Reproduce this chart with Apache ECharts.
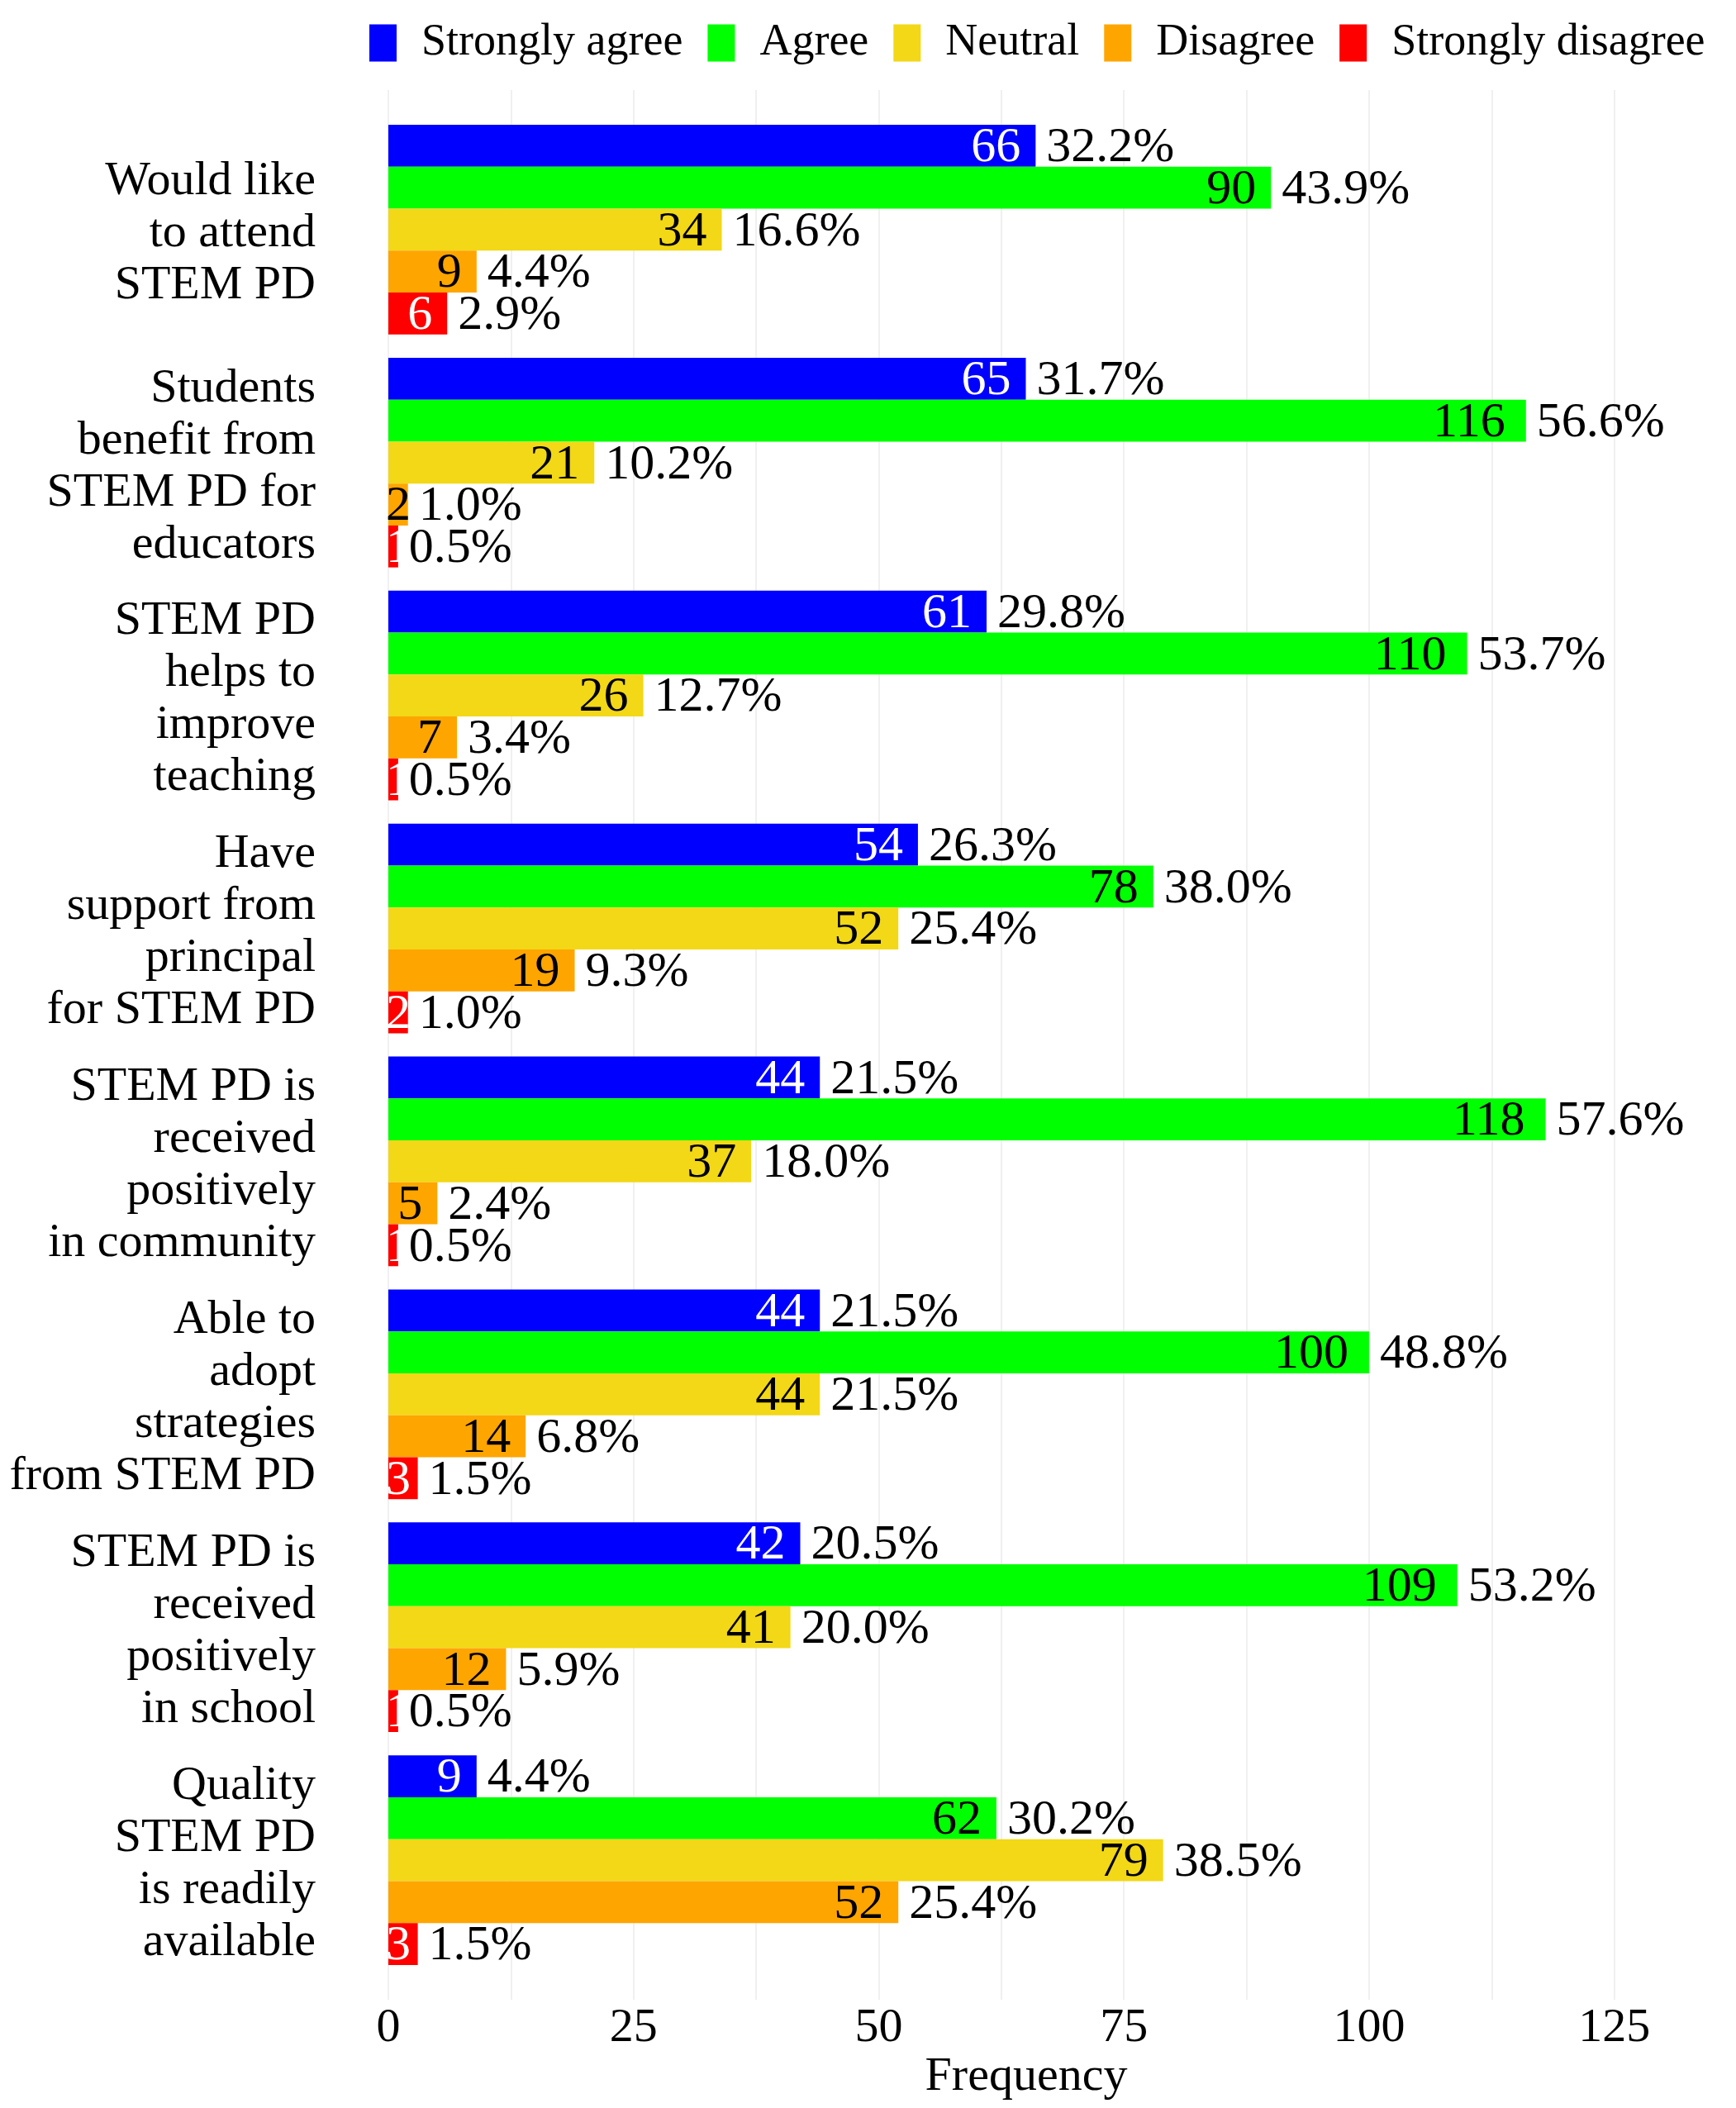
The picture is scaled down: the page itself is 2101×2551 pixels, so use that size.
<!DOCTYPE html>
<html><head><meta charset="utf-8">
<script src="https://cdn.jsdelivr.net/npm/echarts@6/dist/echarts.min.js"></script>
<style>html,body{margin:0;padding:0;background:#fff}#c{width:2101px;height:2551px}</style>
</head><body><div id="c"></div>
<script>
const categories = [
  'Would like\nto attend\nSTEM PD',
  'Students\nbenefit from\nSTEM PD for\neducators',
  'STEM PD\nhelps to\nimprove\nteaching',
  'Have\nsupport from\nprincipal\nfor STEM PD',
  'STEM PD is\nreceived\npositively\nin community',
  'Able to\nadopt\nstrategies\nfrom STEM PD',
  'STEM PD is\nreceived\npositively\nin school',
  'Quality\nSTEM PD\nis readily\navailable'
];
const seriesNames = ['Strongly agree', 'Agree', 'Neutral', 'Disagree', 'Strongly disagree'];
const stronglyAgree    = [66, 65, 61, 54, 44, 44, 42, 9];
const agree            = [90, 116, 110, 78, 118, 100, 109, 62];
const neutral          = [34, 21, 26, 52, 37, 44, 41, 79];
const disagree         = [9, 2, 7, 19, 5, 14, 12, 52];
const stronglyDisagree = [6, 1, 1, 2, 1, 3, 1, 3];
const pctStronglyAgree    = ['32.2%', '31.7%', '29.8%', '26.3%', '21.5%', '21.5%', '20.5%', '4.4%'];
const pctAgree            = ['43.9%', '56.6%', '53.7%', '38.0%', '57.6%', '48.8%', '53.2%', '30.2%'];
const pctNeutral          = ['16.6%', '10.2%', '12.7%', '25.4%', '18.0%', '21.5%', '20.0%', '38.5%'];
const pctDisagree         = ['4.4%', '1.0%', '3.4%', '9.3%', '2.4%', '6.8%', '5.9%', '25.4%'];
const pctStronglyDisagree = ['2.9%', '0.5%', '0.5%', '1.0%', '0.5%', '1.5%', '0.5%', '1.5%'];
const xTickLabels = [0, 25, 50, 75, 100, 125];

const counts = [stronglyAgree, agree, neutral, disagree, stronglyDisagree];
const pcts = [pctStronglyAgree, pctAgree, pctNeutral, pctDisagree, pctStronglyDisagree];
const colors = ['#0000FF', '#00FF00', '#F2D816', '#FFA500', '#FF0000'];
const countTextColors = ['#FFFFFF', '#000000', '#000000', '#000000', '#FFFFFF'];

const FONT = 'Liberation Serif';
const X_MAX = 137.5;
const GRID_LEFT = 470;
const GRID_W = 1632;

const series = [];
seriesNames.forEach((name, i) => {
  series.push({
    name: name,
    type: 'bar',
    xAxisIndex: 0, yAxisIndex: 0,
    barGap: 0, barCategoryGap: '10%',
    itemStyle: { color: colors[i] },
    data: counts[i],
    label: {
      show: true, position: 'right', distance: 13, offset: [0, 3],
      fontFamily: FONT, fontSize: 60, color: '#000',
      formatter: p => pcts[i][p.dataIndex]
    },
    silent: true,
    z: 3
  });
});
seriesNames.forEach((name, i) => {
  series.push({
    name: name + ' count',
    type: 'bar',
    xAxisIndex: 0, yAxisIndex: 2,
    barGap: 0, barCategoryGap: '10%',
    itemStyle: { color: 'rgba(0,0,0,0)' },
    data: counts[i].map(v => {
      const small = v <= 3;
      const digits = String(v).length;
      return {
        value: v,
        label: small
          ? { position: 'insideLeft', distance: -3 }
          : { position: 'insideRight', distance: digits >= 3 ? 25 : 18 }
      };
    }),
    label: {
      show: true, offset: [0, 3],
      fontFamily: FONT, fontSize: 60, color: countTextColors[i],
      formatter: p => String(p.value)
    },
    silent: true,
    z: 4
  });
});

const option = {
  backgroundColor: '#fff',
  animation: false,
  legend: {
    data: seriesNames,
    left: 442, top: 20,
    icon: 'rect',
    itemWidth: 33, itemHeight: 45, itemGap: 30,
    textStyle: { fontFamily: FONT, fontSize: 54, color: '#000', lineHeight: 45, padding: [0, 0, 0, 25] }
  },
  grid: [
    { left: GRID_LEFT, top: 137, width: GRID_W, height: 2255, outerBoundsMode: 'none' },
    { left: GRID_LEFT, top: 109, width: GRID_W, height: 2311, outerBoundsMode: 'none' },
    { left: GRID_LEFT, top: 142, width: GRID_W, height: 2255, outerBoundsMode: 'none' }
  ],
  xAxis: [
    { type: 'value', gridIndex: 0, min: 0, max: X_MAX, interval: 12.5, show: false },
    {
      type: 'value', gridIndex: 1, min: 0, max: X_MAX, interval: 12.5,
      axisLine: { show: false }, axisTick: { show: false },
      axisLabel: {
        fontFamily: FONT, fontSize: 58, color: '#000', margin: 6, lineHeight: 58,
        formatter: v => (xTickLabels.indexOf(v) >= 0 ? String(v) : '')
      },
      splitLine: { show: true, lineStyle: { color: '#EBEBEB', width: 1.5 } }
    },
    { type: 'value', gridIndex: 2, min: 0, max: X_MAX, show: false }
  ],
  yAxis: [
    { type: 'category', gridIndex: 0, data: categories, inverse: true, show: false },
    { type: 'value', gridIndex: 1, min: 0, max: 1, show: false },
    { type: 'category', gridIndex: 0, data: categories, inverse: true, show: false },
    {
      type: 'category', gridIndex: 2, data: categories, inverse: true,
      axisLine: { show: false }, axisTick: { show: false }, splitLine: { show: false },
      axisLabel: { fontFamily: FONT, fontSize: 58, lineHeight: 63, color: '#000', margin: 88, align: 'right' }
    }
  ],
  graphic: [
    {
      type: 'text', x: 1242, y: 2514, silent: true,
      style: { text: 'Frequency', fontFamily: FONT, fontSize: 58, fill: '#000', align: 'center', verticalAlign: 'middle' }
    }
  ],
  series: series
};

const chart = echarts.init(document.getElementById('c'), null, { renderer: 'canvas' });
chart.setOption(option);
</script>
</body></html>
